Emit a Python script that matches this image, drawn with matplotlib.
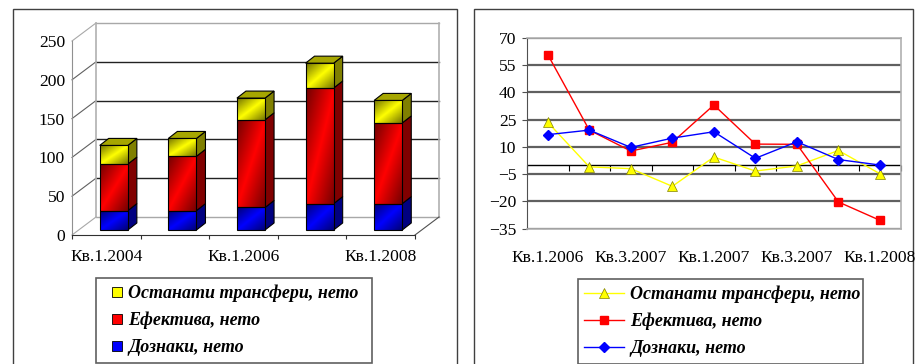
import numpy as np
import matplotlib
matplotlib.use("Agg")
import matplotlib.pyplot as plt
from matplotlib.patches import Rectangle, Polygon
from matplotlib.legend_handler import HandlerPatch
from matplotlib.transforms import Affine2D
from matplotlib.colors import to_rgb

# ---------- data ----------
series_names = ["Останати трансфери, нето", "Ефектива, нето", "Дознаки, нето"]
bar_quarters = ["Кв.1.2004", "", "Кв.1.2006", "", "Кв.1.2008"]
bar_remittances = [25, 25, 29, 34, 34]
bar_cash = [60, 70, 113, 149, 104]
bar_other = [24, 23, 28, 32, 29]
bar_yticks = [0, 50, 100, 150, 200, 250]

line_quarters = ["Кв.1.2006", "", "Кв.3.2007", "", "Кв.1.2007", "", "Кв.3.2007", "", "Кв.1.2008"]
line_other = [23.5, -1, -2, -11.7, 4.4, -3.3, -0.5, 8, -4.8]
line_cash = [60.7, 19.2, 7.7, 12.5, 33, 11.5, 11.4, -20.3, -30.4]
line_remittances = [16.7, 19.2, 9.7, 14.8, 18.3, 3.7, 12.8, 3, 0]
line_yticks = [-35, -20, -5, 10, 25, 40, 55, 70]

# ---------- setup ----------
W, H = 920, 364
plt.rcParams["font.family"] = ["Liberation Serif", "DejaVu Serif"]
fig = plt.figure(figsize=(W / 100, H / 100), dpi=100)
fig.patch.set_facecolor("white")

def axes_px(x0, y0, x1, y1):
    return fig.add_axes([x0 / W, 1 - y1 / H, (x1 - x0) / W, (y1 - y0) / H])

for x0, x1 in [(13.5, 457), (474, 913)]:
    fig.add_artist(Rectangle((x0 / W, -0.02), (x1 - x0) / W, 1.02 - 8.5 / H, zorder=-1,
                             transform=fig.transFigure, fc="white", ec="#404040", lw=1))

LEG_FONT = dict(family="Liberation Serif", weight="bold", style="italic", size=13)
TICK_SIZE = 12.6

# ---------- left: stacked 3D-look bars ----------
ax = axes_px(72, 41, 415, 235)
ax.patch.set_visible(False)
for s in ["top", "right"]:
    ax.spines[s].set_visible(False)
ax.spines["left"].set_color("#909090")
ax.spines["bottom"].set_color("#303030")
ax.set_xlim(-0.5, 4.5)
ax.set_ylim(0, 250)

back = ax.transData + Affine2D().translate(24, 18)
xl, xr = -0.5, 4.5
for v in bar_yticks:
    ax.plot([xl, xr], [v, v], transform=back, clip_on=False, lw=1.0, zorder=1,
            color="#222222" if 0 < v < 250 else "#a8a8a8")
    ax.plot([xl, xl + 24 / 68.6], [v, v + 18 / 0.776], clip_on=False, lw=0.8, zorder=1,
            color="#606060" if 0 < v < 250 else "#a8a8a8")
ax.plot([xl, xl], [0, 250], transform=back, clip_on=False, color="#b0b0b0", lw=1.2, zorder=1)
ax.plot([xr, xr], [0, 250], transform=back, clip_on=False, color="#b0b0b0", lw=1.2, zorder=1)
ax.plot([xr, xr + 24 / 68.6], [0, 18 / 0.776], clip_on=False, color="#505050", lw=0.8, zorder=1)

bar_tr = ax.transData + Affine2D().translate(7.5, 5)
BW = 0.41
DX, DY = 9 / 68.6, 7 / 0.776

def shade(col, f):
    return tuple(np.array(to_rgb(col)) * f)

def gradient(col):
    n = 40
    u, v = np.meshgrid(np.linspace(0, 1, n), np.linspace(0, 1, n))
    f = 1 - 0.55 * np.abs(u + v - 1)
    return np.dstack([np.array(to_rgb(col))[i] * f for i in range(3)])

stack_base = np.zeros(5)
stacks = [(bar_remittances, "#0000ff"), (bar_cash, "#ff0000"), (bar_other, "#ffff00")]
xs = np.arange(5)
for vals, col in stacks:
    vals = np.array(vals, float)
    top = stack_base + vals
    for i in xs:
        l, r = i - BW / 2, i + BW / 2
        b, t = stack_base[i], top[i]
        ax.add_patch(Polygon([(r, b), (r + DX, b + DY), (r + DX, t + DY), (r, t)], closed=True,
                             fc=shade(col, 0.5), ec="black", lw=0.8, transform=bar_tr,
                             clip_on=False, zorder=3))
        ax.imshow(gradient(col), extent=(l, r, b, t), aspect="auto", transform=bar_tr,
                  zorder=3.1, clip_on=False, interpolation="bilinear")
        ax.add_patch(Rectangle((l, b), r - l, t - b, fill=False, ec="black", lw=0.8,
                               transform=bar_tr, clip_on=False, zorder=3.2))
        if col == "#ffff00":
            ax.add_patch(Polygon([(l, t), (r, t), (r + DX, t + DY), (l + DX, t + DY)], closed=True,
                                 fc=shade(col, 0.65), ec="black", lw=0.8, transform=bar_tr,
                                 clip_on=False, zorder=3.2))
    stack_base = top
ax.set_xlim(-0.5, 4.5)
ax.set_ylim(0, 250)
ax.set_yticks(bar_yticks)
ax.tick_params(axis="y", length=0, pad=5, labelsize=TICK_SIZE)
ax.set_xticks(xs, bar_quarters)
ax.tick_params(axis="x", which="major", length=0, pad=10, labelsize=TICK_SIZE)
ax.set_xticks(np.arange(-0.5, 5, 1), minor=True)
ax.tick_params(axis="x", which="minor", length=3, width=0.8, color="#303030")

def small_swatch(legend, orig_handle, xdescent, ydescent, width, height, fontsize):
    return Rectangle((7 - xdescent, height / 2 - 3.6 - ydescent), 7.2, 7.2)

def swatch(col):
    return Rectangle((0, 0), 1, 1, fc=col, ec="black", lw=0.6)

handles = [swatch("#ffff00"), swatch("#ff0000"), swatch("#0000ff")]
leg = ax.legend(handles, series_names, loc="upper left",
                bbox_to_anchor=(96 / W, 1 - 362 / H, 276 / W, 84 / H),
                bbox_transform=fig.transFigure, mode="expand", prop=LEG_FONT,
                fancybox=False, framealpha=1, edgecolor="#606060", labelspacing=0.55,
                handlelength=1.15, handleheight=0.8, handletextpad=0.3,
                borderpad=0.35, borderaxespad=0,
                handler_map={Rectangle: HandlerPatch(patch_func=small_swatch)})
leg.get_frame().set_linewidth(1.2)
leg.set_zorder(10)

# ---------- right: lines ----------
ax2 = axes_px(527, 37.7, 900.7, 228.7)
ax2.patch.set_visible(False)
ax2.set_xlim(-0.5, 8.5)
ax2.set_ylim(-35, 70)
ax2.set_yticks(line_yticks)
ax2.grid(axis="y", color="#606060", lw=1.6, zorder=1)
ax2.set_axisbelow(True)
for s in ["top", "right", "bottom"]:
    ax2.spines[s].set_color("#b0b0b0")
    ax2.spines[s].set_linewidth(1.2)
ax2.spines["left"].set_color("#505050")
ax2.tick_params(axis="y", length=3.6, width=0.8, color="#505050", pad=4, labelsize=TICK_SIZE)
x2 = np.arange(len(line_other))
ax2.set_xticks(x2, line_quarters)
ax2.tick_params(axis="x", length=0, pad=15, labelsize=TICK_SIZE)
ax2.axhline(0, color="black", lw=1, zorder=2)
sec = ax2.secondary_xaxis(35 / 105)
sec.set_xticks(np.arange(-0.5, 9, 1))
sec.set_xticklabels([])
sec.tick_params(axis="x", length=4, width=0.8, color="black")
sec.spines["bottom"].set_visible(False)

l1, = ax2.plot(x2, line_other, color="#ffff00", lw=1, marker="^", ms=7,
               mfc="#ffff00", mec="#808000", mew=0.5, zorder=3, clip_on=False)
l2, = ax2.plot(x2, line_cash, color="#ff0000", lw=1, marker="s", ms=6,
               mfc="#ff0000", mec="#ff0000", zorder=4, clip_on=False)
l3, = ax2.plot(x2, line_remittances, color="#0000ff", lw=1, marker="D", ms=5,
               mfc="#0000ff", mec="#0000ff", zorder=5, clip_on=False)
leg2 = ax2.legend([l1, l2, l3], series_names, loc="upper left",
                  bbox_to_anchor=(578 / W, 1 - 363 / H, 285 / W, 84 / H),
                  bbox_transform=fig.transFigure, mode="expand", prop=LEG_FONT,
                  fancybox=False, framealpha=1, edgecolor="#606060", labelspacing=0.55,
                  handlelength=2.2, handletextpad=0.35, borderpad=0.35, borderaxespad=0)
leg2.get_frame().set_linewidth(1.2)

fig.savefig("out.png", dpi=100)
